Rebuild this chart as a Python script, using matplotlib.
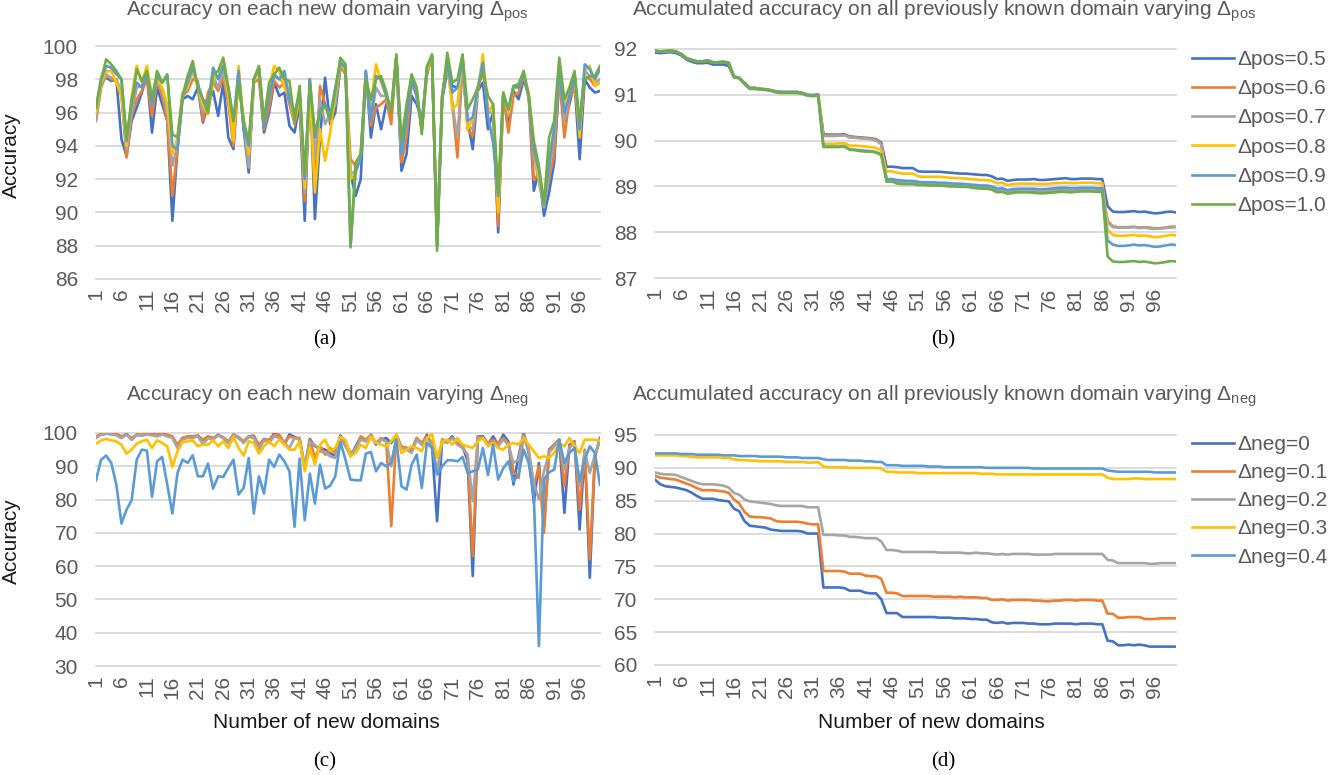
import matplotlib
matplotlib.use("Agg")
import matplotlib.pyplot as plt

# x axis: number of new domains
domains = list(range(1, 101))
tick_domains = domains[::5]

# (a) accuracy on each new domain, varying delta_pos
pos_labels = ["Δpos=0.5", "Δpos=0.6", "Δpos=0.7", "Δpos=0.8", "Δpos=0.9", "Δpos=1.0"]

acc_pos_05 = [
    96.2, 97.8, 98.1, 97.9, 98.0, 94.4, 93.4, 95.5, 96.3, 97.2,
    98.3, 94.8, 97.5, 96.5, 95.5, 89.5, 93.8, 96.8, 97.0, 96.8,
    97.5, 95.4, 96.5, 97.3, 95.8, 97.8, 94.5, 93.8, 98.5, 95.0,
    92.4, 98.0, 98.5, 94.8, 96.0, 97.8, 97.0, 97.2, 95.2, 94.8,
    96.5, 89.5, 98.0, 89.6, 94.5, 98.1, 95.3, 96.0, 98.7, 98.5,
    92.3, 91.0, 92.0, 98.5, 94.5, 96.5, 95.0, 96.5, 96.0, 99.3,
    92.5, 93.5, 97.0, 96.5, 95.5, 98.3, 99.4, 88.0, 96.8, 98.5,
    97.6, 97.5, 98.5, 95.5, 93.8, 97.3, 97.8, 95.0, 96.0, 88.8,
    97.0, 95.5, 97.3, 96.8, 98.0, 97.0, 91.3, 92.5, 89.8, 91.2,
    93.0, 98.0, 95.5, 96.5, 97.8, 93.2, 98.0, 97.5, 97.2, 97.3]
acc_pos_06 = [
    95.5, 97.5, 98.3, 98.0, 97.9, 97.0, 93.3, 95.8, 96.8, 97.3,
    98.0, 95.8, 98.0, 97.0, 95.5, 91.0, 93.8, 97.0, 97.3, 98.0,
    97.9, 95.5, 97.2, 97.8, 97.3, 98.1, 96.5, 94.0, 98.0, 95.5,
    93.3, 97.8, 98.0, 95.0, 96.3, 97.9, 97.5, 97.8, 96.5, 95.3,
    96.8, 90.7, 97.5, 91.5, 97.6, 96.5, 95.5, 96.5, 98.8, 98.3,
    93.2, 92.8, 93.5, 98.3, 95.2, 96.3, 96.5, 96.8, 95.3, 99.3,
    93.0, 94.5, 97.8, 97.0, 95.0, 98.3, 99.4, 88.2, 97.0, 99.0,
    96.5, 93.3, 99.0, 95.0, 94.6, 97.5, 98.5, 96.2, 96.3, 89.2,
    97.0, 94.8, 97.0, 97.2, 98.2, 97.0, 92.0, 92.3, 90.5, 92.0,
    93.5, 98.2, 94.5, 96.8, 97.5, 95.0, 98.2, 98.0, 97.6, 97.8]
acc_pos_07 = [
    95.5, 97.7, 98.2, 98.1, 98.0, 97.2, 93.8, 96.0, 97.5, 97.6,
    98.4, 96.5, 98.0, 97.3, 96.0, 92.8, 94.0, 97.0, 97.5, 98.5,
    97.6, 96.0, 96.5, 98.2, 97.5, 98.5, 96.8, 95.0, 98.2, 95.3,
    92.7, 97.8, 98.7, 95.2, 97.0, 98.2, 98.0, 97.8, 96.8, 95.5,
    97.0, 91.2, 97.6, 93.2, 96.8, 95.3, 96.0, 96.5, 99.0, 98.6,
    92.3, 92.5, 93.3, 98.0, 95.5, 97.5, 97.0, 97.0, 96.0, 99.3,
    93.5, 95.5, 98.0, 97.0, 95.0, 98.5, 99.4, 88.5, 97.0, 99.0,
    96.5, 94.5, 99.2, 95.2, 95.0, 97.5, 98.8, 96.0, 96.0, 90.2,
    97.2, 95.8, 97.5, 97.5, 98.3, 97.0, 93.5, 91.8, 90.3, 92.5,
    94.5, 98.5, 95.5, 97.0, 98.0, 95.2, 98.5, 98.2, 97.8, 98.0]
acc_pos_08 = [
    96.0, 97.8, 98.5, 98.5, 97.8, 97.0, 94.0, 97.0, 98.8, 97.8,
    98.8, 97.0, 98.0, 97.5, 96.5, 93.5, 94.5, 97.2, 97.5, 98.6,
    97.5, 96.5, 95.9, 98.0, 98.2, 98.9, 97.0, 94.3, 98.8, 95.5,
    93.5, 97.8, 98.7, 95.5, 97.5, 98.8, 98.5, 97.5, 97.0, 95.5,
    97.0, 91.5, 97.3, 91.2, 95.0, 93.1, 94.8, 97.2, 99.0, 98.5,
    92.0, 92.3, 93.5, 98.3, 96.5, 98.9, 97.8, 97.0, 96.2, 99.4,
    93.5, 95.5, 98.2, 97.3, 95.0, 98.5, 99.4, 88.0, 97.0, 99.2,
    96.2, 96.5, 99.4, 95.0, 95.6, 97.3, 99.5, 96.0, 96.5, 90.0,
    97.2, 96.0, 97.5, 97.7, 98.3, 97.2, 94.0, 92.0, 90.8, 93.5,
    95.0, 98.8, 96.5, 97.5, 98.3, 94.5, 98.5, 98.8, 97.6, 97.8]
acc_pos_09 = [
    96.3, 98.0, 98.8, 98.7, 98.3, 98.0, 94.3, 96.8, 97.8, 97.5,
    98.3, 96.5, 98.2, 97.8, 98.3, 94.0, 93.8, 97.0, 97.8, 98.7,
    97.7, 96.8, 96.5, 98.7, 98.0, 98.8, 97.5, 95.5, 98.5, 95.0,
    94.0, 98.0, 98.7, 95.2, 97.0, 98.3, 98.0, 98.5, 96.8, 96.0,
    97.2, 92.0, 98.0, 94.5, 96.2, 96.5, 95.8, 97.5, 99.0, 98.7,
    87.9, 92.5, 93.2, 98.5, 95.5, 98.2, 98.0, 97.0, 96.2, 99.4,
    93.5, 95.5, 98.0, 97.0, 95.2, 98.8, 99.4, 88.0, 97.0, 99.0,
    97.2, 97.5, 99.2, 95.5, 95.7, 97.5, 99.0, 95.8, 94.2, 91.0,
    97.0, 96.2, 97.6, 97.5, 98.3, 97.0, 93.8, 92.5, 90.5, 93.0,
    95.0, 98.5, 96.0, 97.0, 98.3, 95.0, 98.9, 98.6, 98.0, 98.6]
acc_pos_10 = [
    96.3, 98.0, 99.2, 98.9, 98.5, 98.0, 94.5, 96.5, 98.6, 97.9,
    98.5, 96.8, 98.5, 97.8, 98.2, 94.7, 94.5, 97.0, 98.2, 99.1,
    97.5, 96.8, 96.0, 98.3, 98.5, 99.3, 97.5, 95.5, 97.8, 95.5,
    94.3, 98.0, 98.8, 95.5, 97.8, 98.3, 98.7, 98.0, 97.9, 95.5,
    97.6, 92.3, 97.8, 94.8, 96.0, 96.4, 95.6, 97.3, 99.3, 98.9,
    88.0, 93.0, 93.5, 98.0, 96.8, 98.0, 98.2, 97.3, 96.0, 99.5,
    94.3, 96.5, 98.3, 97.5, 94.7, 98.7, 99.5, 87.7, 96.8, 99.6,
    97.8, 98.0, 99.5, 96.2, 96.8, 97.5, 98.5, 97.0, 96.5, 91.2,
    97.2, 96.2, 97.6, 97.7, 98.5, 97.0, 94.3, 92.8, 90.5, 94.5,
    95.5, 99.3, 96.8, 97.5, 98.5, 95.5, 98.0, 98.2, 98.2, 98.8]

# (b) accumulated accuracy on all previously known domains, varying delta_pos
cum_pos_05 = [
    91.92, 91.91, 91.92, 91.93, 91.91, 91.86, 91.77, 91.72, 91.69, 91.69,
    91.70, 91.66, 91.66, 91.66, 91.63, 91.38, 91.36, 91.24, 91.13, 91.13,
    91.12, 91.11, 91.09, 91.07, 91.05, 91.05, 91.05, 91.05, 91.03, 90.99,
    90.98, 90.99, 90.14, 90.13, 90.13, 90.13, 90.14, 90.09, 90.08, 90.07,
    90.06, 90.05, 90.03, 89.96, 89.43, 89.43, 89.42, 89.40, 89.40, 89.40,
    89.33, 89.32, 89.32, 89.32, 89.32, 89.31, 89.30, 89.29, 89.28, 89.28,
    89.27, 89.26, 89.25, 89.25, 89.22, 89.16, 89.17, 89.12, 89.14, 89.15,
    89.15, 89.15, 89.16, 89.14, 89.14, 89.15, 89.16, 89.17, 89.18, 89.16,
    89.16, 89.17, 89.17, 89.17, 89.16, 89.16, 88.57, 88.45, 88.44, 88.44,
    88.45, 88.46, 88.44, 88.45, 88.43, 88.41, 88.42, 88.44, 88.45, 88.43]
cum_pos_06 = [
    91.96, 91.94, 91.95, 91.96, 91.94, 91.89, 91.80, 91.76, 91.73, 91.73,
    91.75, 91.71, 91.71, 91.72, 91.70, 91.40, 91.37, 91.26, 91.15, 91.15,
    91.13, 91.12, 91.10, 91.07, 91.06, 91.06, 91.06, 91.06, 91.04, 91.00,
    90.99, 91.01, 90.11, 90.11, 90.11, 90.11, 90.12, 90.07, 90.07, 90.06,
    90.05, 90.04, 90.02, 89.94, 89.13, 89.14, 89.10, 89.08, 89.08, 89.08,
    89.05, 89.04, 89.03, 89.03, 89.03, 89.02, 89.01, 89.01, 89.00, 89.00,
    88.99, 88.98, 88.97, 88.97, 88.95, 88.90, 88.91, 88.87, 88.89, 88.90,
    88.90, 88.90, 88.90, 88.89, 88.89, 88.90, 88.91, 88.92, 88.92, 88.91,
    88.91, 88.92, 88.92, 88.92, 88.91, 88.91, 88.25, 88.13, 88.11, 88.11,
    88.11, 88.12, 88.10, 88.11, 88.10, 88.08, 88.09, 88.10, 88.12, 88.12]
cum_pos_07 = [
    91.96, 91.94, 91.95, 91.96, 91.94, 91.89, 91.80, 91.76, 91.73, 91.73,
    91.75, 91.71, 91.71, 91.72, 91.70, 91.40, 91.37, 91.26, 91.15, 91.15,
    91.13, 91.12, 91.10, 91.07, 91.06, 91.06, 91.06, 91.06, 91.04, 91.00,
    90.99, 91.01, 90.10, 90.10, 90.10, 90.11, 90.12, 90.07, 90.06, 90.05,
    90.04, 90.03, 90.00, 89.92, 89.15, 89.15, 89.12, 89.10, 89.10, 89.10,
    89.06, 89.05, 89.05, 89.05, 89.05, 89.04, 89.03, 89.03, 89.02, 89.02,
    89.01, 89.00, 88.99, 88.99, 88.97, 88.92, 88.93, 88.89, 88.91, 88.92,
    88.92, 88.92, 88.92, 88.91, 88.91, 88.92, 88.93, 88.94, 88.94, 88.93,
    88.93, 88.94, 88.94, 88.94, 88.93, 88.93, 88.22, 88.11, 88.10, 88.10,
    88.10, 88.11, 88.09, 88.10, 88.08, 88.07, 88.08, 88.09, 88.10, 88.11]
cum_pos_08 = [
    91.96, 91.94, 91.95, 91.96, 91.94, 91.89, 91.80, 91.76, 91.73, 91.73,
    91.75, 91.71, 91.71, 91.72, 91.70, 91.40, 91.37, 91.26, 91.15, 91.15,
    91.13, 91.12, 91.10, 91.07, 91.06, 91.06, 91.06, 91.06, 91.04, 91.00,
    90.99, 91.01, 89.93, 89.93, 89.93, 89.94, 89.94, 89.89, 89.89, 89.88,
    89.87, 89.86, 89.84, 89.78, 89.33, 89.33, 89.30, 89.28, 89.28, 89.28,
    89.22, 89.21, 89.21, 89.21, 89.21, 89.20, 89.19, 89.18, 89.18, 89.17,
    89.16, 89.15, 89.14, 89.14, 89.12, 89.07, 89.08, 89.03, 89.05, 89.06,
    89.06, 89.06, 89.06, 89.05, 89.05, 89.06, 89.07, 89.07, 89.08, 89.07,
    89.07, 89.08, 89.08, 89.08, 89.07, 89.07, 88.05, 87.94, 87.92, 87.92,
    87.93, 87.94, 87.92, 87.93, 87.91, 87.89, 87.90, 87.92, 87.94, 87.93]
cum_pos_09 = [
    91.96, 91.94, 91.95, 91.96, 91.94, 91.89, 91.80, 91.76, 91.73, 91.73,
    91.75, 91.71, 91.71, 91.72, 91.70, 91.40, 91.37, 91.26, 91.15, 91.15,
    91.13, 91.12, 91.10, 91.07, 91.06, 91.06, 91.06, 91.06, 91.04, 91.00,
    90.99, 91.01, 89.87, 89.87, 89.87, 89.87, 89.88, 89.81, 89.80, 89.79,
    89.78, 89.77, 89.75, 89.70, 89.16, 89.16, 89.14, 89.13, 89.12, 89.12,
    89.10, 89.09, 89.09, 89.09, 89.08, 89.08, 89.07, 89.06, 89.06, 89.05,
    89.04, 89.03, 89.02, 89.02, 89.00, 88.95, 88.96, 88.92, 88.94, 88.95,
    88.95, 88.95, 88.95, 88.94, 88.94, 88.95, 88.96, 88.97, 88.97, 88.96,
    88.96, 88.97, 88.97, 88.97, 88.96, 88.96, 87.82, 87.73, 87.70, 87.70,
    87.71, 87.73, 87.71, 87.72, 87.70, 87.68, 87.69, 87.71, 87.73, 87.72]
cum_pos_10 = [
    91.96, 91.95, 91.96, 91.97, 91.95, 91.88, 91.79, 91.75, 91.72, 91.72,
    91.74, 91.70, 91.70, 91.70, 91.69, 91.39, 91.37, 91.25, 91.13, 91.13,
    91.12, 91.11, 91.09, 91.05, 91.04, 91.04, 91.04, 91.04, 91.02, 90.98,
    90.97, 90.98, 89.86, 89.86, 89.86, 89.86, 89.87, 89.80, 89.79, 89.77,
    89.76, 89.76, 89.74, 89.68, 89.10, 89.11, 89.06, 89.05, 89.05, 89.05,
    89.03, 89.03, 89.02, 89.02, 89.02, 89.01, 89.00, 89.00, 88.99, 88.99,
    88.98, 88.96, 88.95, 88.95, 88.93, 88.87, 88.88, 88.84, 88.86, 88.87,
    88.87, 88.87, 88.86, 88.85, 88.85, 88.86, 88.87, 88.88, 88.88, 88.87,
    88.88, 88.89, 88.89, 88.89, 88.88, 88.88, 87.47, 87.36, 87.35, 87.35,
    87.36, 87.37, 87.35, 87.36, 87.34, 87.32, 87.33, 87.35, 87.37, 87.36]

# (c) accuracy on each new domain, varying delta_neg
neg_labels = ["Δneg=0", "Δneg=0.1", "Δneg=0.2", "Δneg=0.3", "Δneg=0.4"]

acc_neg_00 = [
    98.8, 99.5, 99.8, 99.8, 99.6, 98.5, 99.8, 98.0, 99.5, 99.3,
    99.6, 99.6, 99.4, 99.8, 99.2, 98.8, 96.0, 98.5, 98.8, 98.8,
    99.2, 97.8, 98.8, 98.3, 99.5, 98.5, 97.0, 99.5, 98.5, 97.3,
    99.0, 99.2, 96.0, 98.2, 97.5, 100.0, 99.2, 96.5, 99.6, 98.8,
    98.0, 89.5, 98.2, 96.0, 95.5, 95.0, 94.0, 93.0, 99.3, 96.5,
    93.0, 96.0, 98.8, 97.5, 99.5, 96.5, 98.0, 98.5, 97.0, 99.5,
    95.5, 95.5, 94.5, 98.5, 96.5, 99.5, 96.0, 73.5, 98.0, 97.5,
    99.0, 96.5, 96.0, 91.5, 57.0, 99.0, 99.0, 96.5, 99.0, 96.5,
    99.5, 97.5, 84.5, 93.0, 100.0, 94.0, 79.0, 91.0, 72.0, 95.0,
    96.5, 98.0, 76.0, 96.5, 97.5, 71.0, 94.5, 56.5, 93.0, 98.5]
acc_neg_01 = [
    99.0, 99.8, 100.0, 100.0, 99.8, 99.0, 99.5, 98.5, 99.5, 99.5,
    99.8, 99.6, 99.5, 99.8, 99.5, 99.0, 96.5, 98.5, 99.0, 99.0,
    99.2, 98.0, 99.0, 98.5, 99.3, 98.8, 97.5, 99.5, 98.8, 97.5,
    99.0, 99.0, 96.5, 98.0, 98.0, 99.5, 99.5, 97.0, 99.0, 98.5,
    98.5, 89.5, 98.0, 92.5, 96.0, 93.5, 95.5, 94.0, 99.0, 97.0,
    94.0, 95.0, 99.0, 98.0, 99.3, 97.0, 98.5, 97.5, 72.0, 99.3,
    96.0, 95.5, 95.0, 98.5, 97.0, 99.0, 97.0, 88.0, 98.0, 97.5,
    98.5, 97.0, 96.0, 93.0, 63.0, 99.0, 98.5, 97.0, 98.0, 97.0,
    98.5, 97.0, 88.5, 86.5, 99.5, 95.0, 84.0, 90.0, 70.0, 94.5,
    96.5, 98.0, 84.0, 96.0, 97.5, 77.0, 95.0, 62.0, 93.0, 98.0]
acc_neg_02 = [
    98.5, 99.5, 99.8, 99.5, 99.3, 98.5, 99.5, 98.0, 99.3, 99.3,
    99.5, 99.3, 99.0, 99.5, 99.0, 98.5, 95.5, 98.0, 98.5, 98.5,
    99.0, 96.5, 98.5, 98.0, 99.3, 98.5, 97.0, 99.3, 98.5, 97.0,
    98.8, 98.5, 95.0, 97.8, 97.0, 99.0, 98.5, 97.0, 95.5, 98.5,
    98.0, 90.0, 97.5, 96.5, 94.5, 94.0, 93.0, 92.5, 98.5, 96.0,
    93.5, 95.5, 98.0, 97.5, 99.0, 97.0, 98.0, 97.5, 90.0, 99.0,
    95.5, 95.0, 94.0, 98.0, 96.5, 98.5, 96.5, 88.0, 97.5, 97.0,
    98.5, 96.5, 95.5, 93.5, 79.5, 98.5, 98.5, 96.5, 97.5, 96.0,
    98.0, 96.5, 91.0, 92.0, 99.0, 94.5, 85.0, 80.0, 88.5, 94.0,
    96.0, 97.5, 89.0, 95.5, 97.0, 84.0, 94.5, 88.0, 93.5, 98.0]
acc_neg_03 = [
    96.8, 97.8, 98.2, 97.8, 97.5, 96.5, 93.8, 95.0, 96.8, 97.5,
    98.0, 95.5, 97.8, 97.0, 96.0, 89.8, 94.5, 97.3, 97.5, 97.8,
    96.0, 96.5, 96.5, 97.8, 96.0, 97.5, 95.5, 98.8, 95.5, 93.2,
    97.5, 97.0, 93.8, 96.0, 97.5, 96.0, 98.0, 96.5, 95.0, 95.0,
    97.5, 88.5, 95.5, 90.5, 96.5, 98.0, 94.5, 95.5, 98.8, 98.0,
    93.0, 94.0, 96.5, 95.5, 99.0, 97.0, 96.5, 96.0, 97.5, 99.5,
    94.0, 95.0, 96.0, 95.5, 94.5, 98.5, 99.7, 92.5, 97.5, 98.0,
    96.5, 98.5, 96.5, 96.0, 95.5, 97.5, 98.5, 96.0, 97.0, 95.5,
    95.0, 96.5, 97.0, 96.5, 98.5, 96.5, 94.5, 92.5, 93.0, 92.5,
    94.0, 97.0, 96.0, 98.5, 96.0, 94.0, 98.0, 98.0, 98.0, 97.5]
acc_neg_04 = [
    85.8, 92.0, 93.2, 91.0, 84.5, 72.8, 77.0, 79.8, 92.0, 95.0,
    94.7, 80.8, 91.5, 92.8, 84.5, 75.8, 88.0, 92.0, 91.0, 93.3,
    87.0, 87.0, 90.8, 83.3, 87.0, 86.8, 89.5, 92.0, 81.5, 83.5,
    92.5, 75.8, 87.0, 81.8, 92.0, 89.8, 93.5, 91.5, 88.5, 71.8,
    92.3, 73.8, 87.8, 78.8, 90.5, 83.3, 84.2, 87.0, 97.3, 92.0,
    86.0, 85.8, 85.8, 93.8, 94.3, 88.5, 91.0, 90.0, 91.0, 98.0,
    84.0, 83.0, 90.5, 93.5, 83.5, 97.0, 95.5, 87.5, 90.0, 91.8,
    91.8, 91.5, 92.8, 88.0, 88.5, 89.0, 95.5, 87.4, 96.5, 86.0,
    89.4, 91.5, 85.5, 87.5, 95.0, 91.0, 81.0, 36.0, 86.0, 88.2,
    89.0, 98.0, 91.0, 94.0, 95.5, 85.5, 92.0, 96.0, 94.0, 84.4]

# (d) accumulated accuracy on all previously known domains, varying delta_neg
cum_neg_00 = [
    88.2, 87.5, 87.2, 87.1, 87.0, 86.8, 86.6, 86.2, 85.7, 85.3,
    85.3, 85.3, 85.1, 85.0, 84.9, 83.8, 83.4, 81.9, 81.2, 81.1,
    81.0, 80.9, 80.6, 80.5, 80.4, 80.4, 80.4, 80.4, 80.3, 80.0,
    80.0, 80.0, 71.8, 71.8, 71.8, 71.8, 71.7, 71.3, 71.3, 71.3,
    71.0, 70.9, 70.9, 70.0, 67.9, 67.9, 67.9, 67.3, 67.3, 67.3,
    67.3, 67.3, 67.3, 67.3, 67.2, 67.2, 67.2, 67.1, 67.1, 67.1,
    67.0, 67.0, 66.9, 66.9, 66.5, 66.4, 66.5, 66.3, 66.4, 66.4,
    66.4, 66.3, 66.3, 66.2, 66.2, 66.2, 66.3, 66.3, 66.3, 66.3,
    66.2, 66.3, 66.3, 66.3, 66.2, 66.2, 63.7, 63.6, 63.0, 63.0,
    63.1, 63.0, 63.1, 63.0, 62.8, 62.8, 62.8, 62.8, 62.8, 62.8]
cum_neg_01 = [
    88.8, 88.5, 88.4, 88.3, 88.2, 87.9, 87.6, 87.3, 86.9, 86.6,
    86.6, 86.6, 86.5, 86.4, 86.2, 85.2, 84.6, 83.3, 82.6, 82.5,
    82.5, 82.4, 82.3, 81.9, 81.8, 81.8, 81.8, 81.8, 81.7, 81.5,
    81.4, 81.4, 74.3, 74.3, 74.3, 74.3, 74.2, 73.9, 73.9, 73.9,
    73.6, 73.5, 73.5, 73.1, 71.0, 71.0, 70.9, 70.5, 70.5, 70.5,
    70.5, 70.5, 70.5, 70.4, 70.4, 70.4, 70.4, 70.3, 70.4, 70.3,
    70.3, 70.3, 70.2, 70.2, 69.9, 69.9, 70.0, 69.8, 69.9, 69.9,
    69.9, 69.9, 69.8, 69.8, 69.7, 69.7, 69.8, 69.8, 69.9, 69.9,
    69.8, 69.9, 69.9, 69.9, 69.8, 69.8, 67.8, 67.8, 67.2, 67.2,
    67.3, 67.3, 67.3, 67.0, 67.0, 67.0, 67.1, 67.1, 67.1, 67.1]
cum_neg_02 = [
    89.3, 89.1, 89.0, 89.0, 88.9, 88.6, 88.3, 88.0, 87.7, 87.5,
    87.5, 87.5, 87.4, 87.3, 87.0, 86.2, 85.9, 85.2, 84.9, 84.8,
    84.7, 84.6, 84.5, 84.3, 84.2, 84.2, 84.2, 84.2, 84.2, 84.0,
    84.0, 84.0, 79.8, 79.8, 79.8, 79.7, 79.7, 79.5, 79.5, 79.4,
    79.3, 79.3, 79.3, 78.8, 77.5, 77.5, 77.4, 77.2, 77.2, 77.2,
    77.2, 77.2, 77.2, 77.2, 77.1, 77.1, 77.1, 77.1, 77.1, 77.0,
    77.0, 77.1, 77.0, 77.0, 76.9, 76.8, 76.9, 76.8, 76.9, 76.9,
    76.9, 76.9, 76.8, 76.8, 76.8, 76.8, 76.9, 76.9, 76.9, 76.9,
    76.9, 76.9, 76.9, 76.9, 76.9, 76.9, 76.0, 75.9, 75.5, 75.5,
    75.5, 75.5, 75.5, 75.5, 75.4, 75.4, 75.5, 75.5, 75.5, 75.5]
cum_neg_03 = [
    91.9, 91.9, 91.9, 91.9, 91.9, 91.8, 91.8, 91.7, 91.6, 91.6,
    91.6, 91.6, 91.6, 91.5, 91.5, 91.3, 91.2, 91.2, 91.1, 91.1,
    91.0, 91.0, 91.0, 91.0, 91.0, 90.9, 90.9, 90.9, 90.9, 90.8,
    90.8, 90.9, 90.2, 90.1, 90.1, 90.1, 90.1, 90.0, 90.0, 90.0,
    90.0, 90.0, 90.0, 89.9, 89.4, 89.4, 89.3, 89.3, 89.3, 89.3,
    89.2, 89.2, 89.2, 89.2, 89.2, 89.2, 89.2, 89.2, 89.2, 89.2,
    89.2, 89.2, 89.1, 89.1, 89.1, 89.0, 89.0, 89.0, 89.0, 89.0,
    89.0, 89.0, 89.0, 89.0, 89.0, 89.0, 89.0, 89.0, 89.0, 89.0,
    89.0, 89.0, 89.0, 89.0, 89.0, 89.0, 88.5, 88.3, 88.3, 88.3,
    88.3, 88.4, 88.4, 88.3, 88.3, 88.3, 88.3, 88.3, 88.3, 88.3]
cum_neg_04 = [
    92.2, 92.2, 92.2, 92.2, 92.2, 92.1, 92.1, 92.1, 92.0, 92.0,
    92.0, 92.0, 92.0, 91.9, 91.9, 91.9, 91.8, 91.8, 91.8, 91.8,
    91.7, 91.7, 91.7, 91.7, 91.7, 91.6, 91.6, 91.6, 91.5, 91.5,
    91.5, 91.5, 91.3, 91.2, 91.2, 91.2, 91.2, 91.1, 91.1, 91.1,
    91.0, 91.0, 90.9, 90.9, 90.4, 90.4, 90.4, 90.3, 90.3, 90.3,
    90.3, 90.3, 90.2, 90.2, 90.2, 90.1, 90.1, 90.1, 90.1, 90.1,
    90.1, 90.1, 90.1, 90.0, 90.0, 90.0, 90.0, 90.0, 90.0, 90.0,
    90.0, 90.0, 89.9, 89.9, 89.9, 89.9, 89.9, 89.9, 89.9, 89.9,
    89.9, 89.9, 89.9, 89.9, 89.9, 89.9, 89.6, 89.5, 89.4, 89.4,
    89.4, 89.4, 89.4, 89.4, 89.4, 89.3, 89.3, 89.3, 89.3, 89.3]

COLORS = ["#4472C4", "#ED7D31", "#A5A5A5", "#FFC000", "#5B9BD5", "#70AD47"]
TXT = "#595959"
GRID = "#D9D9D9"
FS = 15
W, H = 1328, 775


def fx(px):
    return px / W


def fy(py):
    return 1 - py / H


def style(ax, ylim, yticks):
    ax.set_xlim(1, 100)
    ax.set_ylim(*ylim)
    ax.set_yticks(yticks)
    ax.set_xticks(tick_domains)
    ax.set_xticklabels([str(d) for d in tick_domains], rotation=90)
    ax.tick_params(axis="both", length=0, labelsize=FS, colors=TXT)
    ax.tick_params(axis="x", pad=7)
    ax.tick_params(axis="y", pad=13)
    for s in ax.spines.values():
        s.set_visible(False)
    ax.grid(axis="y", color=GRID, lw=1.3)
    ax.grid(axis="x", visible=False)
    ax.set_axisbelow(True)
    for gl in ax.get_ygridlines():
        gl.set_clip_on(False)


def main():
    plt.rcParams["font.family"] = ["Liberation Sans", "DejaVu Sans"]
    plt.rcParams["mathtext.fontset"] = "custom"
    plt.rcParams["mathtext.rm"] = "Liberation Sans"

    fig = plt.figure(figsize=(W / 100, H / 100), dpi=100)

    ax_a = fig.add_axes([fx(96), fy(279), fx(600 - 96), (279 - 46) / H])
    ax_b = fig.add_axes([fx(655), fy(278), fx(1176 - 655), (278 - 49) / H])
    ax_c = fig.add_axes([fx(96), fy(666), fx(600 - 96), (666 - 433) / H])
    ax_d = fig.add_axes([fx(655), fy(665), fx(1176 - 655), (665 - 435) / H])

    series_a = [acc_pos_05, acc_pos_06, acc_pos_07, acc_pos_08, acc_pos_09, acc_pos_10]
    series_b = [cum_pos_05, cum_pos_06, cum_pos_07, cum_pos_08, cum_pos_09, cum_pos_10]
    series_c = [acc_neg_00, acc_neg_01, acc_neg_02, acc_neg_03, acc_neg_04]
    series_d = [cum_neg_00, cum_neg_01, cum_neg_02, cum_neg_03, cum_neg_04]

    lw = 1.9
    for vals, col, lab in zip(series_a, COLORS, pos_labels):
        ax_a.plot(domains, vals, color=col, lw=lw, label=lab)
    for vals, col, lab in zip(series_b, COLORS, pos_labels):
        ax_b.plot(domains, vals, color=col, lw=lw, label=lab)
    for vals, col, lab in zip(series_c, COLORS, neg_labels):
        ax_c.plot(domains, vals, color=col, lw=lw, label=lab)
    for vals, col, lab in zip(series_d, COLORS, neg_labels):
        ax_d.plot(domains, vals, color=col, lw=lw, label=lab)

    style(ax_a, (86, 100), range(86, 101, 2))
    style(ax_b, (87, 92), range(87, 93, 1))
    style(ax_c, (30, 100), range(30, 101, 10))
    style(ax_d, (60, 95), range(60, 96, 5))

    # legends to the right of the accumulated panels
    ax_b.legend(loc="upper left", bbox_to_anchor=(fx(1192), fy(50)),
                bbox_transform=fig.transFigure, frameon=False, fontsize=FS,
                labelcolor=TXT, handlelength=2.0, handletextpad=0.2,
                labelspacing=0.49, borderaxespad=0, borderpad=0)
    ax_d.legend(loc="upper left", bbox_to_anchor=(fx(1192), fy(435)),
                bbox_transform=fig.transFigure, frameon=False, fontsize=FS,
                labelcolor=TXT, handlelength=2.0, handletextpad=0.2,
                labelspacing=0.44, borderaxespad=0, borderpad=0)

    # chart titles
    fig.text(fx(327), fy(11), r"Accuracy on each new domain varying Δ$_{\mathrm{pos}}$",
             ha="center", va="center", fontsize=FS, color=TXT)
    fig.text(fx(944), fy(11),
             r"Accumulated accuracy on all previously known domain varying Δ$_{\mathrm{pos}}$",
             ha="center", va="center", fontsize=FS, color=TXT)
    fig.text(fx(327), fy(396), r"Accuracy on each new domain varying Δ$_{\mathrm{neg}}$",
             ha="center", va="center", fontsize=FS, color=TXT)
    fig.text(fx(944), fy(396),
             r"Accumulated accuracy on all previously known domain varying Δ$_{\mathrm{neg}}$",
             ha="center", va="center", fontsize=FS, color=TXT)

    # axis titles
    for yc in (155, 541):
        fig.text(fx(11), fy(yc), "Accuracy", rotation=90, ha="center", va="center",
                 fontsize=FS, color="#1a1a1a")
    for xc in (326, 931):
        fig.text(fx(xc), fy(722), "Number of new domains", ha="center", va="center",
                 fontsize=FS, color="#1a1a1a")

    # panel letters
    for (xc, yc), s in zip([(325, 340), (943, 340), (325, 762), (943, 762)],
                           ["(a)", "(b)", "(c)", "(d)"]):
        fig.text(fx(xc), fy(yc), s, ha="center", va="center", fontsize=FS,
                 family="Liberation Serif", color="black")

    fig.savefig("out.png", dpi=100)


if __name__ == "__main__":
    main()
